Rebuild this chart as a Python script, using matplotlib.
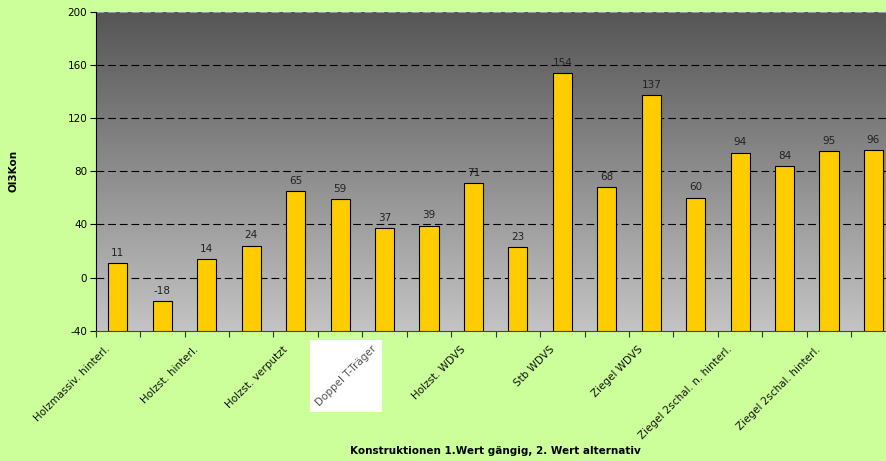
import numpy as np
import matplotlib.pyplot as plt
from matplotlib.patches import Rectangle
from matplotlib.colors import LinearSegmentedColormap

werte = [11, -18, 14, 24, 65, 59, 37, 39, 71, 23, 154, 68, 137, 60, 94, 84, 95, 96]
beschriftung = ["Holzmassiv. hinterl.", "Holzst. hinterl.", "Holzst. verputzt",
                "Doppel T-Träger", "Holzst. WDVS", "Stb WDVS", "Ziegel WDVS",
                "Ziegel 2schal. n. hinterl.", "Ziegel 2schal. hinterl."]
y_ticks = [-40, 0, 40, 80, 120, 160, 200]
y_min = -40

fig = plt.figure(figsize=(8.87, 4.61), dpi=100)
fig.patch.set_facecolor('#ccff99')
ax = fig.add_axes([0.1079, 0.2826, 1.0098 - 0.1079, 0.9746 - 0.2826])

# Verlauf im Hintergrund
grad = np.linspace(0, 1, 256).reshape(-1, 1)
cmap = LinearSegmentedColormap.from_list('g', ['#555555', '#c4c4c4'])
ax.imshow(grad, cmap=cmap, extent=[0, 1, 0, 1], transform=ax.transAxes, aspect='auto', zorder=0)

# Balken wie in Excel ab der Achse (-40)
x = np.arange(len(werte))
hoehe = [v - y_min for v in werte]
ax.bar(x, hoehe, width=0.43, bottom=y_min, color='#ffcc00', edgecolor='black', linewidth=0.8, zorder=3)
for i, v in enumerate(werte):
    ax.text(i, v + 4, str(v), ha='center', va='bottom', fontsize=7.5, color='#222222', zorder=4)

ax.set_xlim(-0.5, len(werte) - 0.5)
ax.set_ylim(-40, 200)
ax.set_yticks(y_ticks)
ax.set_yticklabels([str(t) for t in y_ticks], fontsize=7.5)
for t in y_ticks[1:-1]:
    ax.axhline(t, color='black', linestyle=(0, (7, 3.5)), linewidth=0.8, zorder=1)
ax.axhline(200, color='#999999', linestyle=(0, (7, 3.5)), linewidth=0.8, zorder=1)

ax.set_xticks(np.arange(-0.5, len(werte), 1))
ax.set_xticklabels([])
ax.tick_params(axis='x', direction='out', length=4, color='#333333')
ax.tick_params(axis='y', direction='out', length=4, pad=2)

doppel = None
for k, lab in enumerate(beschriftung):
    pos = 2 * k
    farbe = '#555555' if lab == "Doppel T-Träger" else '#111111'
    t = ax.text(pos - 0.3, -50, lab, rotation=45, ha='right', va='top', rotation_mode='anchor',
                fontsize=7.5, color=farbe, clip_on=False, zorder=5)
    if lab == "Doppel T-Träger":
        doppel = t

for s in ['top', 'right']:
    ax.spines[s].set_visible(False)
ax.spines['left'].set_color('black')
ax.spines['bottom'].set_color('#444444')

ax.set_ylabel('Ol3Kon', fontsize=7.5, fontweight='bold', labelpad=0)
ax.yaxis.set_label_coords(-0.097, 0.5)
ax.set_xlabel('Konstruktionen 1.Wert gängig, 2. Wert alternativ', fontsize=7.5, fontweight='bold')
ax.xaxis.set_label_coords(0.5, -0.36)

# weißer Kasten hinter "Doppel T-Träger" (eingefügtes Bild im Original)
fig.canvas.draw()
bb = doppel.get_window_extent().transformed(fig.transFigure.inverted())
px, py = 4 / 887, 4 / 461
fig.patches.append(Rectangle((bb.x0 - px, bb.y0 - py), bb.width + 2 * px, bb.height + 2 * py,
                             transform=fig.transFigure, facecolor='white', edgecolor='none', zorder=-1))

fig.savefig('out.png', dpi=100, facecolor=fig.get_facecolor())
